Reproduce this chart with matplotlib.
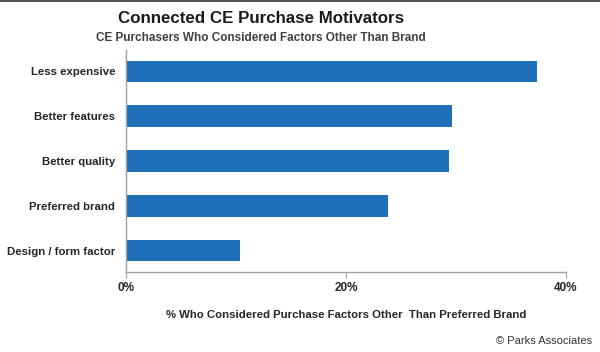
import matplotlib.pyplot as plt

categories = ['Less expensive', 'Better features', 'Better quality',
              'Preferred brand', 'Design / form factor']
values = [37.4, 29.7, 29.4, 23.8, 10.3]
xticks = [0, 20, 40]
xticklabels = ['0%', '20%', '40%']

plt.rcParams['font.family'] = ['Liberation Sans', 'DejaVu Sans']

fig = plt.figure(figsize=(6, 3.52), dpi=100)
ax = fig.add_axes([0.2108, 0.2273, 0.7317, 0.6307])

ax.barh(range(len(categories)), values, height=0.49, color='#1f70b8')
ax.set_ylim(len(categories) - 0.52, -0.48)
ax.set_xlim(0, 40)

ax.set_yticks(range(len(categories)))
ax.set_yticklabels(categories, fontsize=8.2, fontweight='bold', color='#262626')
ax.tick_params(axis='y', length=0, pad=8)
ax.set_xticks(xticks)
ax.set_xticklabels(xticklabels, fontsize=8.5, fontweight='bold', color='#262626')
ax.tick_params(axis='x', length=4, color='#a0a0a0', pad=3)

for s in ['top', 'right']:
    ax.spines[s].set_visible(False)
for s in ['left', 'bottom']:
    ax.spines[s].set_color('#a0a0a0')
    ax.spines[s].set_linewidth(1)

ax.set_xlabel('% Who Considered Purchase Factors Other  Than Preferred Brand',
              fontsize=8.2, fontweight='bold', color='#262626', labelpad=12)

fig.text(0.435, 0.948, 'Connected CE Purchase Motivators', ha='center', va='center',
         fontsize=12.2, fontweight='bold', color='#1a1a1a')
fig.text(0.435, 0.893, 'CE Purchasers Who Considered Factors Other Than Brand',
         ha='center', va='center', fontsize=8.5, fontweight='bold', color='#404040')
fig.text(0.987, 0.03, '\u00a9 Parks Associates', ha='right', va='center',
         fontsize=8, color='#333333')

# thin dark rule along the top edge
fig.add_artist(plt.Line2D([0, 1], [0.998, 0.998], color='#333333', lw=1.2))

fig.savefig('out.png', dpi=100)
